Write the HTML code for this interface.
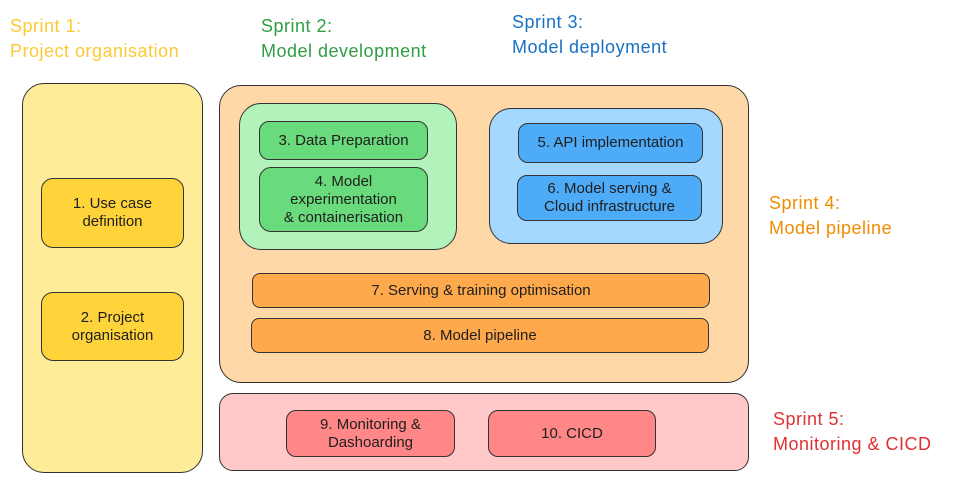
<!DOCTYPE html>
<html><head><meta charset="utf-8"><style>
body{margin:0;width:963px;height:482px;background:#fff;position:relative;overflow:hidden;font-family:"Liberation Sans",sans-serif}
.b{position:absolute;box-sizing:border-box;border:1px solid #333;display:flex;align-items:center;justify-content:center;text-align:center;color:#1e1e1e;font-size:15px;line-height:18px}
.t{position:absolute;font-family:"Liberation Sans",sans-serif;font-size:18px;line-height:25px;white-space:nowrap;letter-spacing:0.5px}
</style></head><body>
<div class="t" style="left:10px;top:14px;color:#fcc934">Sprint 1:<br>Project organisation</div>
<div class="t" style="left:261px;top:14px;color:#2f9e44">Sprint 2:<br>Model development</div>
<div class="t" style="left:512px;top:10px;color:#1971c2">Sprint 3:<br>Model deployment</div>
<div class="t" style="left:769px;top:191px;color:#f08c00">Sprint 4:<br>Model pipeline</div>
<div class="t" style="left:773px;top:407px;color:#e03131">Sprint 5:<br>Monitoring &amp; CICD</div>

<div class="b" style="left:22px;top:83px;width:181px;height:390px;background:#ffec99;border-radius:22px"></div>
<div class="b" style="left:41px;top:178px;width:143px;height:70px;background:#ffd43b;border-radius:12px">1. Use case<br>definition</div>
<div class="b" style="left:41px;top:292px;width:143px;height:69px;background:#ffd43b;border-radius:12px">2. Project<br>organisation</div>

<div class="b" style="left:219px;top:85px;width:530px;height:298px;background:#ffd8a8;border-radius:22px"></div>
<div class="b" style="left:239px;top:103px;width:218px;height:147px;background:#b2f2bb;border-radius:22px"></div>
<div class="b" style="left:259px;top:121px;width:169px;height:39px;background:#69db7c;border-radius:10px">3. Data Preparation</div>
<div class="b" style="left:259px;top:167px;width:169px;height:65px;background:#69db7c;border-radius:12px">4. Model<br>experimentation<br>&amp; containerisation</div>

<div class="b" style="left:489px;top:108px;width:234px;height:136px;background:#a5d8ff;border-radius:22px"></div>
<div class="b" style="left:518px;top:123px;width:185px;height:40px;background:#4dabf7;border-radius:10px">5. API implementation</div>
<div class="b" style="left:517px;top:175px;width:185px;height:46px;background:#4dabf7;border-radius:10px">6. Model serving &amp;<br>Cloud infrastructure</div>

<div class="b" style="left:252px;top:273px;width:458px;height:35px;background:#ffa94d;border-radius:8px">7. Serving &amp; training optimisation</div>
<div class="b" style="left:251px;top:318px;width:458px;height:35px;background:#ffa94d;border-radius:8px">8. Model pipeline</div>

<div class="b" style="left:219px;top:393px;width:530px;height:78px;background:#ffc9c9;border-radius:14px"></div>
<div class="b" style="left:286px;top:410px;width:169px;height:47px;background:#ff8787;border-radius:10px">9. Monitoring &amp;<br>Dashoarding</div>
<div class="b" style="left:488px;top:410px;width:168px;height:47px;background:#ff8787;border-radius:10px">10. CICD</div>
</body></html>
